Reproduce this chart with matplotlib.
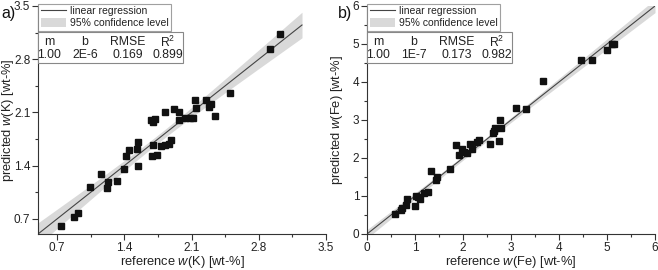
import numpy as np
import matplotlib
matplotlib.use("Agg")
import matplotlib.pyplot as plt
from matplotlib.lines import Line2D
from matplotlib.patches import Patch, Rectangle
from matplotlib.ticker import MultipleLocator

plt.rcParams['font.family'] = 'Liberation Sans'
plt.rcParams['mathtext.fontset'] = 'custom'
plt.rcParams['mathtext.rm'] = 'Liberation Sans'
plt.rcParams['mathtext.it'] = 'Liberation Sans:italic'

# panel a: potassium
ref_k = [0.74, 0.87, 0.92, 1.04, 1.16, 1.23, 1.22, 1.32, 1.40, 1.42, 1.45, 1.53, 1.54, 1.54,
         1.69, 1.74, 1.70, 1.78, 1.82, 1.86, 1.89, 1.68, 1.70, 1.72, 1.82, 1.92, 1.97, 1.97,
         2.03, 2.08, 2.11, 2.14, 2.15, 2.25, 2.30, 2.28, 2.34, 2.50, 2.92, 3.02]
pred_k = [0.60, 0.73, 0.77, 1.12, 1.29, 1.18, 1.11, 1.20, 1.35, 1.53, 1.60, 1.62, 1.71, 1.40,
          1.53, 1.54, 1.67, 1.66, 1.67, 1.68, 1.74, 2.00, 1.97, 2.01, 2.10, 2.14, 2.10, 2.00,
          2.02, 2.03, 2.03, 2.26, 2.16, 2.26, 2.21, 2.17, 2.05, 2.36, 2.94, 3.13]
stats_k = ['1.00', '2E-6', '0.169', '0.899']
m_k, b_k, rmse_k = 1.00, 2e-6, 0.169

# panel b: iron
ref_fe = [0.58, 0.71, 0.73, 0.81, 0.84, 0.99, 1.02, 1.07, 1.10, 1.19, 1.28, 1.33, 1.44, 1.45,
          1.72, 1.85, 1.92, 1.97, 2.02, 2.09, 2.15, 2.19, 2.30, 2.33, 2.56, 2.63, 2.65, 2.67,
          2.74, 2.77, 2.79, 3.10, 3.31, 3.66, 4.45, 4.68, 4.99, 5.10, 5.15]
pred_fe = [0.53, 0.63, 0.68, 0.76, 0.92, 0.74, 1.00, 0.97, 0.92, 1.07, 1.11, 1.67, 1.43, 1.51,
           1.72, 2.33, 2.07, 2.24, 2.16, 2.14, 2.36, 2.24, 2.42, 2.48, 2.36, 2.65, 2.72, 2.80,
           2.46, 2.99, 2.80, 3.32, 3.28, 4.02, 4.58, 4.58, 4.84, 4.99, 5.01]
stats_fe = ['1.00', '1E-7', '0.173', '0.982']
m_fe, b_fe, rmse_fe = 1.00, 1e-7, 0.173

header = ['m', 'b', 'RMSE', 'R$^2$']

dark = '#333333'
band_col = '#d9d9d9'


def panel(ax, x, y, m, b, rmse, stats, lim, step, line_end, xlabel, ylabel):
    x = np.asarray(x)
    n = len(x)
    xm = x.mean()
    sxx = ((x - xm) ** 2).sum()
    xs = np.linspace(lim[0], line_end, 200)
    ys = m * xs + b
    hw = 2.02 * rmse * np.sqrt(1.0 / n + (xs - xm) ** 2 / sxx)
    ax.fill_between(xs, ys - hw, ys + hw, color=band_col, lw=0, zorder=1)
    ax.plot(xs, ys, color='#444444', lw=0.8, zorder=2)
    ax.plot(x, y, 's', color='#111111', ms=4.4, zorder=3)

    ax.set_xlim(lim)
    ax.set_ylim(lim)
    ax.xaxis.set_major_locator(MultipleLocator(step))
    ax.yaxis.set_major_locator(MultipleLocator(step))
    ax.xaxis.set_minor_locator(MultipleLocator(step / 2))
    ax.yaxis.set_minor_locator(MultipleLocator(step / 2))
    for s in ['top', 'right']:
        ax.spines[s].set_visible(False)
    for s in ['left', 'bottom']:
        ax.spines[s].set_color(dark)
        ax.spines[s].set_linewidth(0.8)
    ax.tick_params(which='major', length=4, width=0.8, color=dark, labelcolor='#222222',
                   labelsize=8.5, pad=1.5)
    ax.tick_params(which='minor', length=2.5, width=0.8, color=dark)
    ax.set_xlabel(xlabel, fontsize=9.3, color='#222222', labelpad=0)
    ax.set_ylabel(ylabel, fontsize=9.3, color='#222222')
    ax.yaxis.set_label_coords(-0.078, 0.5)

    handles = [Line2D([], [], color='#444444', lw=0.8), Patch(color=band_col, lw=0)]
    leg = ax.legend(handles, ['linear regression', '95% confidence level'],
                    loc='upper left', bbox_to_anchor=(0.0, 1.01), borderaxespad=0,
                    fontsize=7.5, frameon=True, fancybox=False, handlelength=2.4,
                    handleheight=0.9, handletextpad=0.4, labelspacing=0.2,
                    borderpad=0.25)
    leg.get_frame().set_edgecolor('#888888')
    leg.get_frame().set_linewidth(0.8)
    for t in leg.get_texts():
        t.set_color('#222222')

    # stats table
    ax.add_patch(Rectangle((0.0, 0.748), 0.503, 0.136, transform=ax.transAxes,
                           fill=True, facecolor='white', edgecolor='#888888', lw=0.8,
                           zorder=4, clip_on=False))
    cols = [0.038, 0.163, 0.313, 0.45]
    for cx, h, v in zip(cols, header, stats):
        ax.text(cx, 0.84, h, transform=ax.transAxes, ha='center', va='center',
                fontsize=8.8, color='#222222', zorder=5)
        ax.text(cx, 0.783, v, transform=ax.transAxes, ha='center', va='center',
                fontsize=8.8, color='#222222', zorder=5)


fig = plt.figure(figsize=(6.58, 2.70), dpi=100)
ax1 = fig.add_axes([38 / 658, 36 / 270, 288 / 658, 228 / 270])
ax2 = fig.add_axes([367 / 658, 36 / 270, 288 / 658, 228 / 270])

panel(ax1, ref_k, pred_k, m_k, b_k, rmse_k, stats_k, (0.5, 3.5), 0.7, 3.25,
      'reference $\\it{w}$(K) [wt-%]', 'predicted $\\it{w}$(K) [wt-%]')
panel(ax2, ref_fe, pred_fe, m_fe, b_fe, rmse_fe, stats_fe, (0, 6), 1, 6,
      'reference $\\it{w}$(Fe) [wt-%]', 'predicted $\\it{w}$(Fe) [wt-%]')

fig.text(0.002, 1 - 6 / 270, 'a)', fontsize=11.5, ha='left', va='top', color='#111111')
fig.text(338 / 658, 1 - 6 / 270, 'b)', fontsize=11.5, ha='left', va='top', color='#111111')

fig.savefig('out.png', dpi=100)
